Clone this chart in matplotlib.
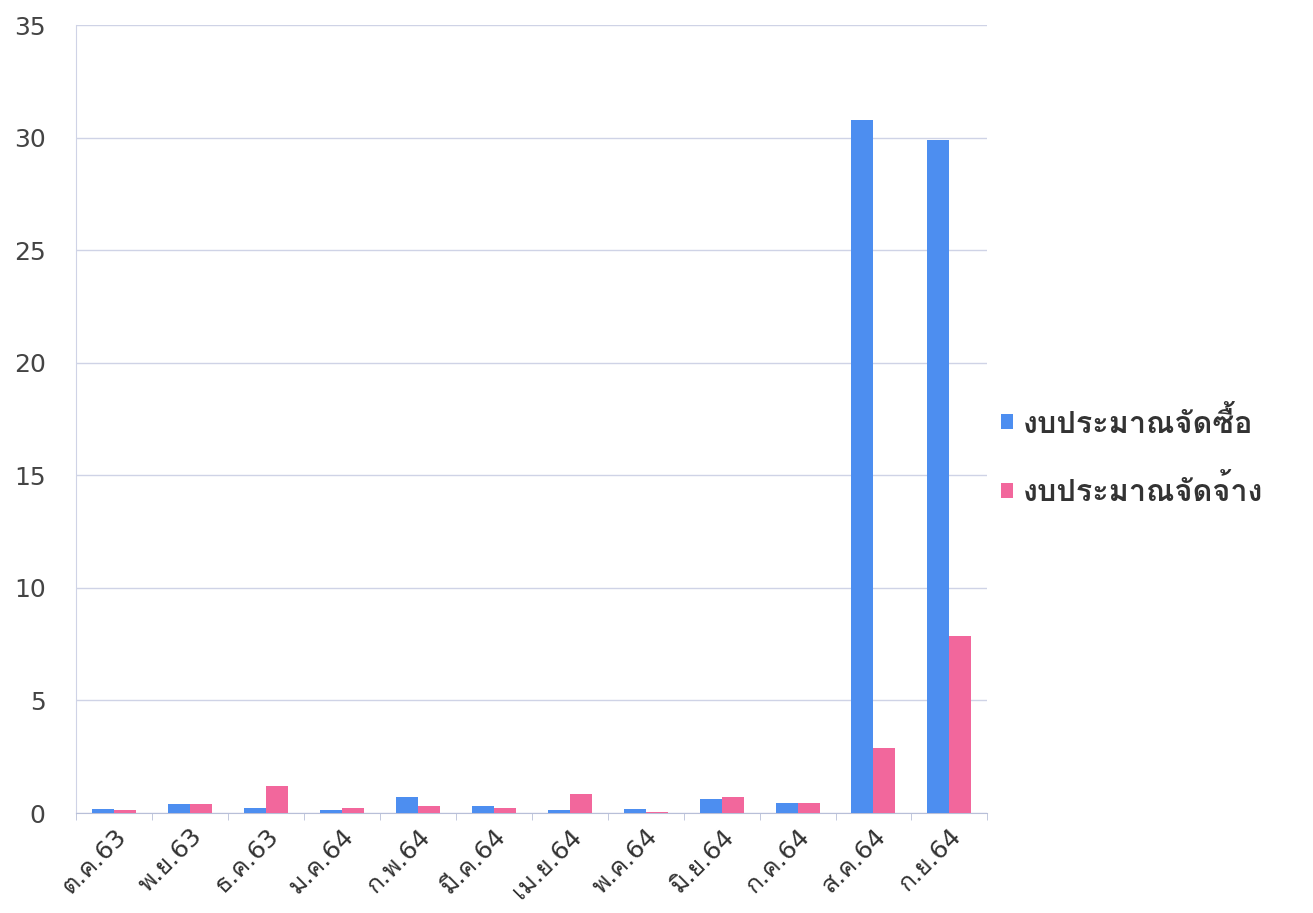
import matplotlib
matplotlib.use("Agg")
import matplotlib.pyplot as plt
import numpy as np

months = ["ต.ค.63", "พ.ย.63", "ธ.ค.63", "ม.ค.64", "ก.พ.64", "มี.ค.64",
          "เม.ย.64", "พ.ค.64", "มิ.ย.64", "ก.ค.64", "ส.ค.64", "ก.ย.64"]
purchase = [0.2, 0.4, 0.22, 0.13, 0.7, 0.31, 0.13, 0.18, 0.62, 0.45, 30.8, 29.9]
hire = [0.12, 0.38, 1.2, 0.22, 0.31, 0.22, 0.84, 0.06, 0.7, 0.45, 2.9, 7.85]
series_names = ["งบประมาณจัดซื้อ", "งบประมาณจัดจ้าง"]

# DejaVu for digits (Verdana look), Loma for the Thai glyphs
plt.rcParams['font.family'] = ['DejaVu Sans', 'Loma']

fig = plt.figure(figsize=(13.13, 9.13), dpi=100)
ax = fig.add_axes([0.058, 0.1095, 0.694, 0.863])

x = np.arange(len(months))
w = 0.29
ax.bar(x - w / 2, purchase, w, color="#4d8ef0", label=series_names[0], zorder=3)
ax.bar(x + w / 2, hire, w, color="#f2679c", label=series_names[1], zorder=3)

ax.set_xlim(-0.5, len(months) - 0.5)
ax.set_ylim(0, 35)
ax.set_yticks(range(0, 36, 5))
ax.yaxis.grid(True, color="#cfd3e6", linewidth=1, zorder=0)
ax.tick_params(axis='y', length=0, labelsize=18, labelcolor="#444444", pad=22)

ax.set_xticks(x)
ax.set_xticklabels(months, rotation=45, ha="right", rotation_mode="anchor",
                   fontsize=18, color="#333333")
ax.set_xticks(np.arange(-0.5, len(months)), minor=True)
ax.tick_params(axis='x', which='major', length=0, pad=8)
ax.tick_params(axis='x', which='minor', length=5, color="#b8bfd8")

for s in ["top", "right"]:
    ax.spines[s].set_visible(False)
ax.spines["left"].set_color("#cfd3e6")
ax.spines["bottom"].set_color("#b8bfd8")

ax.legend(loc="center left", bbox_to_anchor=(0.985, 0.452), frameon=False,
          prop={'family': ['Loma', 'DejaVu Sans'], 'weight': 'bold', 'size': 22},
          handlelength=0.4, handleheight=0.4, handletextpad=0.3,
          labelspacing=1.2, labelcolor="#333333")

fig.savefig("out.png", dpi=100)
